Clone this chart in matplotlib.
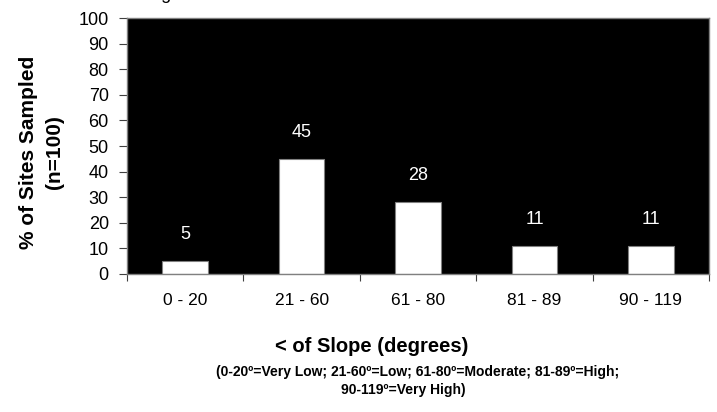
import matplotlib.pyplot as plt
import numpy as np

plt.rcParams['font.family'] = ['Liberation Sans', 'DejaVu Sans']

categories = ["0 - 20", "21 - 60", "61 - 80", "81 - 89", "90 - 119"]
percent = [5, 45, 28, 11, 11]
yticks = np.arange(0, 101, 10)

fig = plt.figure(figsize=(7.17, 4.12), dpi=100)
ax = fig.add_axes([0.177, 0.335, 0.812, 0.621])
ax.set_facecolor("black")

x = np.arange(len(categories))
bars = ax.bar(x, percent, width=0.39, color="white", edgecolor="#808080", linewidth=0.8)

# value labels above each bar, white on the black plot area
for xi, v in zip(x, percent):
    ax.annotate(str(v), (xi, v), xytext=(0, 13), textcoords="offset points",
                ha="center", va="bottom", color="white", fontsize=13)

ax.set_xlim(-0.5, len(categories) - 0.5)
ax.set_ylim(0, 100)
ax.set_yticks(yticks)
ax.tick_params(axis="y", labelsize=13, length=6, width=0.8, color="#404040", pad=7)

# category names centred, ticks on the boundaries
ax.set_xticks(x)
ax.set_xticklabels(categories, fontsize=12.5)
ax.tick_params(axis="x", length=0, pad=14)
ax.set_xticks(np.arange(-0.5, len(categories)), minor=True)
ax.tick_params(axis="x", which="minor", length=5, width=0.8, color="#404040")

for s in ax.spines.values():
    s.set_color("#808080")
    s.set_linewidth(1.0)

fig.text(0.058, 0.631, "% of Sites Sampled\n(n=100)", rotation=90, ha="center", va="center",
         multialignment="center", fontsize=15, fontweight="bold", linespacing=1.45)

fig.text(0.519, 0.158, "< of Slope (degrees)", ha="center", va="center",
         fontsize=14.5, fontweight="bold")
fig.text(0.583, 0.097, "(0-20\u00ba=Very Low; 21-60\u00ba=Low; 61-80\u00ba=Moderate; 81-89\u00ba=High;",
         ha="center", va="center", fontsize=10, fontweight="bold")
fig.text(0.562, 0.053, "90-119\u00ba=Very High)", ha="center", va="center",
         fontsize=10, fontweight="bold")

# chart title, mostly above the top edge of the figure
fig.text(0.205, 1.003, "Figure", ha="left", va="baseline", fontsize=13)

fig.savefig("out.png", dpi=100)
